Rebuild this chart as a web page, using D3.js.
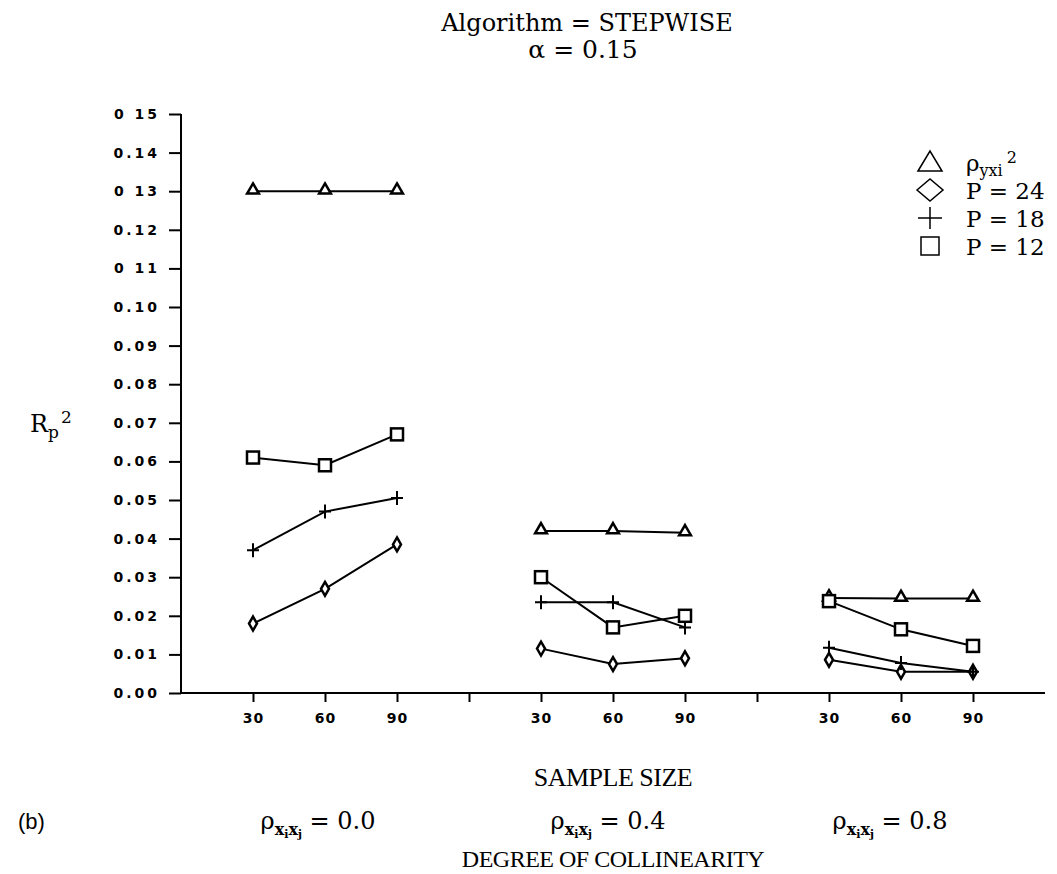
<!DOCTYPE html>
<html>
<head>
<meta charset="utf-8">
<script src="https://cdn.jsdelivr.net/npm/d3@7"></script>
<style>
  body { margin: 0; background: #fff; }
  .serif { font-family: "DejaVu Serif", "Liberation Serif", serif; fill: #000; }
  .times { font-family: "Liberation Serif", "DejaVu Serif", serif; fill: #000; }
  .tick text { font-family: "DejaVu Sans", Arial, sans-serif; font-weight: bold; font-size: 14px; }
</style>
</head>
<body>
<script>
// valores
var colinealidad = ["0.0", "0.4", "0.8"];
var tamanos = ["30", "60", "90"];
var etiquetasY = ["0.00", "0.01", "0.02", "0.03", "0.04", "0.05", "0.06", "0.07",
                  "0.08", "0.09", "0.10", "0 11", "0.12", "0 13", "0.14", "0 15"];

var rhoCuadrado = [[0.130, 0.130, 0.130], [0.042, 0.042, 0.0415], [0.0246, 0.0245, 0.0245]];
var p24 = [[0.018, 0.027, 0.0385], [0.0115, 0.0075, 0.009], [0.0086, 0.0055, 0.0055]];
var p18 = [[0.037, 0.047, 0.0505], [0.0235, 0.0235, 0.017], [0.0117, 0.0078, 0.0055]];
var p12 = [[0.061, 0.059, 0.067], [0.030, 0.017, 0.020], [0.0238, 0.0165, 0.0122]];

var width = 1057;
var height = 874;

var svg = d3.select("body").append("svg")
    .attr("width", width)
    .attr("height", height);

// posiciones: 0 = eje Y, cada grupo ocupa 4 huecos
var escalaX = d3.scaleLinear().domain([0, 12]).range([181, 1045]);
var escalaY = d3.scaleLinear().domain([0, 0.15]).range([693, 114]);

function posX(g, i) { return escalaX(g * 4 + i + 1); }

// ejes
var ejeY = d3.axisLeft(escalaY)
    .tickValues(d3.range(16).map(function(i){ return i / 100; }))
    .tickFormat(function(d, i){ return etiquetasY[i]; })
    .tickSize(12)
    .tickPadding(9);

var gY = svg.append("g")
    .attr("transform", "translate(" + escalaX(0) + ",0)")
    .call(ejeY);
gY.selectAll(".tick text").style("letter-spacing", "3px");

var ticksX = d3.range(1, 12);
var ejeX = d3.axisBottom(escalaX)
    .tickValues(ticksX)
    .tickFormat(function(d){ return d % 4 === 0 ? "" : tamanos[(d % 4) - 1]; })
    .tickSize(9)
    .tickPadding(11);

var gX = svg.append("g")
    .attr("transform", "translate(0," + escalaY(0) + ")")
    .call(ejeX);
gX.selectAll(".tick text").style("letter-spacing", "1px");

svg.selectAll(".domain").attr("stroke", "#000").attr("stroke-width", 2);
svg.selectAll(".tick line").attr("stroke", "#000").attr("stroke-width", 2);
gX.selectAll(".domain").attr("d", "M" + escalaX(0) + ",0H" + escalaX(12));
gY.selectAll(".domain").attr("d", "M0," + escalaY(0) + "V" + escalaY(0.15));

// series
var series = [
    { nombre: "rho", valores: rhoCuadrado, marca: "triangulo" },
    { nombre: "p24", valores: p24, marca: "rombo" },
    { nombre: "p18", valores: p18, marca: "cruz" },
    { nombre: "p12", valores: p12, marca: "cuadrado" }
];

var linea = d3.line()
    .x(function(d){ return d.x; })
    .y(function(d){ return d.y; });

function dibujarMarca(sel, marca) {
    if (marca === "triangulo") {
        sel.append("path").attr("d", d3.symbol().type(d3.symbolTriangle).size(60)())
            .attr("transform", "translate(0,-1)")
            .attr("fill", "#fff").attr("stroke", "#000").attr("stroke-width", 2.5);
    } else if (marca === "rombo") {
        sel.append("path").attr("d", d3.symbol().type(d3.symbolDiamond).size(55)())
            .attr("fill", "#fff").attr("stroke", "#000").attr("stroke-width", 2.5);
    } else if (marca === "cruz") {
        sel.append("path").attr("d", "M-6,0H6M0,-7V7")
            .attr("fill", "none").attr("stroke", "#000").attr("stroke-width", 2);
    } else {
        sel.append("rect").attr("x", -6).attr("y", -6).attr("width", 12).attr("height", 12)
            .attr("fill", "#fff").attr("stroke", "#000").attr("stroke-width", 2.5);
    }
}

series.forEach(function(s) {
    s.valores.forEach(function(grupo, g) {
        var puntos = grupo.map(function(v, i){ return { x: posX(g, i), y: escalaY(v) }; });
        svg.append("path")
            .datum(puntos)
            .attr("d", linea)
            .attr("fill", "none")
            .attr("stroke", "#000")
            .attr("stroke-width", 2);
        svg.selectAll(null)
            .data(puntos)
            .join("g")
            .attr("transform", function(d){ return "translate(" + d.x + "," + d.y + ")"; })
            .each(function(){ dibujarMarca(d3.select(this), s.marca); });
    });
});

// titulos
svg.append("text").attr("class", "serif")
    .attr("x", 587).attr("y", 31)
    .attr("text-anchor", "middle").style("font-size", "24px")
    .text("Algorithm = STEPWISE");
svg.append("text").attr("class", "serif")
    .attr("x", 583).attr("y", 58)
    .attr("text-anchor", "middle").style("font-size", "25px")
    .text("\u03b1 = 0.15");

// titulo eje Y
var tY = svg.append("text").attr("class", "serif")
    .attr("x", 30).attr("y", 432).style("font-size", "24px");
tY.append("tspan").text("R");
tY.append("tspan").attr("dy", 6).style("font-size", "17px").text("p");
tY.append("tspan").attr("dy", -15).attr("dx", 2).style("font-size", "17px").text("2");

// leyenda
var leyenda = svg.append("g").attr("transform", "translate(930,0)");
var filasLeyenda = [
    { marca: "triangulo", y: 162 },
    { marca: "rombo", y: 190 },
    { marca: "cruz", y: 218 },
    { marca: "cuadrado", y: 246 }
];
var textosLeyenda = ["", "P = 24", "P = 18", "P = 12"];
filasLeyenda.forEach(function(f, i) {
    var gm = leyenda.append("g").attr("transform", "translate(0," + f.y + ")");
    if (f.marca === "triangulo") {
        gm.append("path").attr("d", "M-12,9L0,-11L12,9Z").attr("fill", "none").attr("stroke", "#000").attr("stroke-width", 1.5);
    } else if (f.marca === "rombo") {
        gm.append("path").attr("d", "M-13,0L0,-11L13,0L0,11Z").attr("fill", "none").attr("stroke", "#000").attr("stroke-width", 1.5);
    } else if (f.marca === "cruz") {
        gm.append("path").attr("d", "M-12,0H12M0,-11V11").attr("fill", "none").attr("stroke", "#000").attr("stroke-width", 1.5);
    } else {
        gm.append("rect").attr("x", -9).attr("y", -9).attr("width", 18).attr("height", 18)
            .attr("fill", "none").attr("stroke", "#000").attr("stroke-width", 1.5);
    }
    var t = leyenda.append("text").attr("class", "serif")
        .attr("x", 36).attr("y", f.y + 9).style("font-size", "23px");
    if (i === 0) {
        t.append("tspan").text("\u03c1");
        t.append("tspan").attr("dy", 5).style("font-size", "16px").text("yxi");
        t.append("tspan").attr("dy", -13).attr("dx", 4).style("font-size", "16px").text("2");
    } else {
        t.text(textosLeyenda[i]);
    }
});

// textos inferiores
svg.append("text").attr("class", "times")
    .attr("x", 613).attr("y", 786)
    .attr("text-anchor", "middle").style("font-size", "26px").style("letter-spacing", "-0.5px")
    .text("SAMPLE SIZE");

svg.append("text")
    .attr("x", 18).attr("y", 829)
    .style("font-family", "Liberation Sans, Arial, sans-serif").style("font-size", "22px")
    .text("(b)");

var centrosRho = [318, 608, 890];
colinealidad.forEach(function(c, i) {
    var t = svg.append("text").attr("class", "serif")
        .attr("x", centrosRho[i]).attr("y", 829)
        .attr("text-anchor", "middle").style("font-size", "24px");
    t.append("tspan").text("\u03c1");
    t.append("tspan").attr("dy", 6).style("font-size", "16px").style("font-weight", "bold").text("x");
    t.append("tspan").attr("dy", 3).style("font-size", "11px").style("font-weight", "bold").text("i");
    t.append("tspan").attr("dy", -3).style("font-size", "16px").style("font-weight", "bold").text("x");
    t.append("tspan").attr("dy", 3).style("font-size", "11px").style("font-weight", "bold").text("j");
    t.append("tspan").attr("dy", -9).text(" = " + c);
});

svg.append("text").attr("class", "times")
    .attr("x", 613).attr("y", 867)
    .attr("text-anchor", "middle").style("font-size", "24px").style("letter-spacing", "-0.5px")
    .text("DEGREE OF COLLINEARITY");
</script>
</body>
</html>
